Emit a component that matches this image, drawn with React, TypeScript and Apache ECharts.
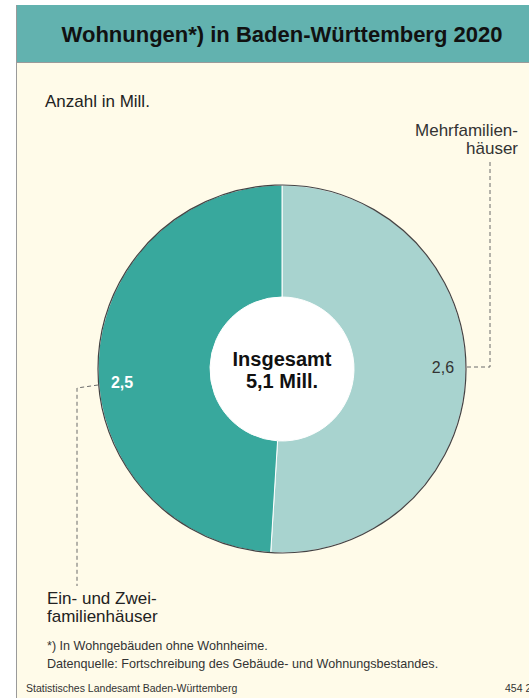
import React, { useEffect, useRef } from "react";
import * as echarts from "echarts";

const title = "Wohnungen*) in Baden-Württemberg 2020";
const unitLabel = "Anzahl in Mill.";
const categories = ["Mehrfamilienhäuser", "Ein- und Zweifamilienhäuser"];
const categoryLabels = ["Mehrfamilien-\nhäuser", "Ein- und Zwei-\nfamilienhäuser"];
const values = [2.6, 2.5];
const totalLabel = "Insgesamt\n5,1 Mill.";
const footnotes = [
  "*) In Wohngebäuden ohne Wohnheime.",
  "Datenquelle: Fortschreibung des Gebäude- und Wohnungsbestandes.",
];
const source = "Statistisches Landesamt Baden-Württemberg";
const chartNo = "454 20";

const FONT = "'Liberation Sans', Arial, Helvetica, sans-serif";
const CX = 282;
const CY = 369;
const R_OUT = 184;
const R_IN = 72;

export default function App() {
  const ref = useRef<HTMLDivElement>(null);
  useEffect(() => {
    document.body.style.margin = "0";
    const chart = echarts.init(ref.current!, null, { renderer: "svg" });
    const dash = { stroke: "#6b6b6b", lineWidth: 1, lineDash: [4, 3] };
    chart.setOption({
      animation: false,
      backgroundColor: "#ffffff",
      graphic: [
        { type: "rect", z: 0, shape: { x: 16, y: 5, width: 513, height: 693 }, style: { fill: "#FFFBE9" } },
        { type: "rect", z: 0, shape: { x: 16, y: 5, width: 513, height: 57 }, style: { fill: "#62B2AF" } },
        { type: "line", z: 1, shape: { x1: 16, y1: 62.5, x2: 529, y2: 62.5 }, style: { stroke: "#9a9a9a", lineWidth: 1 } },
        { type: "line", z: 1, shape: { x1: 16.5, y1: 5, x2: 16.5, y2: 698 }, style: { stroke: "#9a9a9a", lineWidth: 1 } },
        {
          type: "text", z: 5, x: 282, y: 34,
          style: { text: title, font: `bold 22px ${FONT}`, fill: "#111", align: "center", verticalAlign: "middle" },
        },
        {
          type: "text", z: 5, x: 45, y: 101,
          style: { text: unitLabel, font: `17px ${FONT}`, fill: "#222", verticalAlign: "middle" },
        },
        { type: "circle", z: 1, shape: { cx: CX, cy: CY, r: R_IN + 1 }, style: { fill: "#ffffff" } },
        { type: "circle", z: 10, shape: { cx: CX, cy: CY, r: R_OUT }, style: { fill: "none", stroke: "#444", lineWidth: 1.2 } },
        {
          type: "text", z: 11, x: CX, y: CY + 1,
          style: { text: totalLabel, font: `bold 20px ${FONT}`, fill: "#111", align: "center", verticalAlign: "middle", lineHeight: 22 },
        },
        // right leader line
        { type: "polyline", z: 3, shape: { points: [[467, 367], [490, 367], [490, 162]] }, style: { ...dash, fill: "none" } },
        // left leader line
        { type: "polyline", z: 3, shape: { points: [[98, 385], [77, 388], [77, 586]] }, style: { ...dash, fill: "none" } },
        {
          type: "text", z: 5, x: 518, y: 139,
          style: { text: categoryLabels[0], font: `17px ${FONT}`, fill: "#333", align: "right", verticalAlign: "middle", lineHeight: 18 },
        },
        {
          type: "text", z: 5, x: 47, y: 607,
          style: { text: categoryLabels[1], font: `17px ${FONT}`, fill: "#222", align: "left", verticalAlign: "middle", lineHeight: 18 },
        },
        {
          type: "text", z: 5, x: 47, y: 646,
          style: { text: footnotes[0], font: `12.6px ${FONT}`, fill: "#333", verticalAlign: "middle" },
        },
        {
          type: "text", z: 5, x: 47, y: 664,
          style: { text: footnotes[1], font: `12.6px ${FONT}`, fill: "#333", verticalAlign: "middle" },
        },
        {
          type: "text", z: 5, x: 26, y: 688,
          style: { text: source, font: `10.5px ${FONT}`, fill: "#333", verticalAlign: "middle" },
        },
        {
          type: "text", z: 5, x: 505, y: 688,
          style: { text: chartNo, font: `10.5px ${FONT}`, fill: "#333", verticalAlign: "middle" },
        },
      ],
      series: [
        {
          type: "pie",
          center: [CX, CY],
          radius: [R_IN, R_OUT],
          startAngle: 90,
          clockwise: true,
          z: 2,
          silent: true,
          itemStyle: { borderColor: "#ffffff", borderWidth: 1 },
          labelLine: { show: false },
          label: {
            show: true,
            position: "inside",
            fontFamily: FONT,
            fontSize: 16,
            formatter: (p: any) => String(p.value).replace(".", ","),
          },
          labelLayout: (p: any) =>
            p.dataIndex === 0 ? { dx: 30, dy: -6 } : { dx: -29, dy: 18 },
          data: [
            {
              name: categories[0],
              value: values[0],
              itemStyle: { color: "#A8D3CF" },
              label: { color: "#333", fontWeight: "normal" },
            },
            {
              name: categories[1],
              value: values[1],
              itemStyle: { color: "#38A89D" },
              label: { color: "#ffffff", fontWeight: "bold" },
            },
          ],
        },
      ],
    });
    return () => chart.dispose();
  }, []);
  return <div ref={ref} style={{ width: 529, height: 698 }} />;
}
